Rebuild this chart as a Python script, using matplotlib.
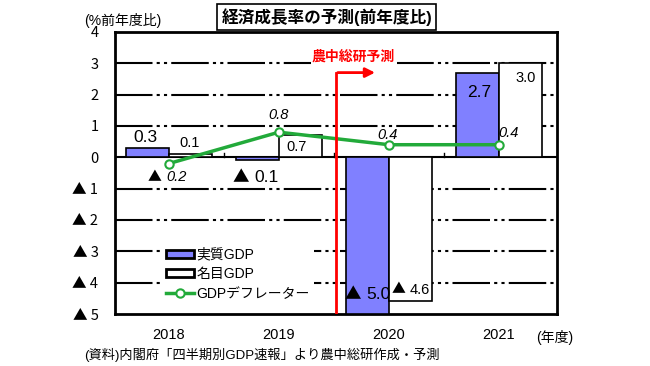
import matplotlib
matplotlib.use("Agg")
import matplotlib.pyplot as plt
import numpy as np

plt.rcParams['font.family'] = ['Liberation Sans', 'Noto Sans CJK JP', 'DejaVu Sans']

years = ['2018', '2019', '2020', '2021']
real_gdp = [0.3, -0.1, -5.0, 2.7]
nominal_gdp = [0.1, 0.7, -4.6, 3.0]
deflator = [-0.2, 0.8, 0.4, 0.4]
yticks = [4, 3, 2, 1, 0, -1, -2, -3, -4, -5]

CJK = ['Noto Sans CJK JP', 'DejaVu Sans']


def label(ax, px, py, v, size, **kw):
    # negative values are written as "▲ n" (triangle in CJK font, digits in sans)
    num = f'{abs(v):.1f}'
    if v < 0:
        ax.annotate('▲', (px, py), xytext=(-1, 0), textcoords='offset points', ha='right', va='center',
                    fontsize=size * 0.95, family=CJK, zorder=5)
        ax.annotate(num, (px, py), xytext=(2.5, 0), textcoords='offset points', ha='left', va='center',
                    fontsize=size, zorder=5, **kw)
    else:
        ax.text(px, py, num, ha='center', va='center', fontsize=size, zorder=5, **kw)


fig = plt.figure(figsize=(6.5, 3.66), dpi=100)
ax = fig.add_axes([0.177, 0.142, 0.68, 0.771])

x = np.arange(len(years))
w = 0.39
b1 = ax.bar(x - w / 2, real_gdp, w, color='#8080ff', edgecolor='black', linewidth=1.2, zorder=3)
b2 = ax.bar(x + w / 2, nominal_gdp, w, color='white', edgecolor='black', linewidth=1.2, zorder=3)
l1, = ax.plot(x, deflator, color='#22aa3a', linewidth=2.5, marker='o', markersize=6,
              markerfacecolor='white', markeredgecolor='#22aa3a', markeredgewidth=1.5, zorder=4)

# grid
for t in yticks:
    if t == 0:
        ax.axhline(0, color='black', linewidth=1.5, zorder=2)
    elif t not in (4, -5):
        ax.axhline(t, color='black', linewidth=1.5, dashes=(18, 2, 1.5, 2, 1.5, 2), zorder=1)
for b in x[:-1] + 0.5:
    ax.plot([b, b], [0, 0.15], color='black', linewidth=1, zorder=2)

ax.set_xlim(-0.49, 3.53)
ax.set_ylim(-5, 4)
ax.set_yticks(yticks)
ax.set_yticklabels([f'▲ {abs(t)}' if t < 0 else str(t) for t in yticks], fontsize=10.5, family=CJK)
ax.set_xticks(x)
ax.set_xticklabels(years, fontsize=10.5)
ax.tick_params(length=0, pad=12)
ax.tick_params(axis='x', pad=10)
for s in ax.spines.values():
    s.set_linewidth(2)

# bar labels
real_pos = [(-0.21, 0.64), (0.745, -0.64), (1.764, -4.38), (2.82, 2.05)]
nom_pos = [(0.19, 0.45), (1.16, 0.32), (2.16, -4.22), (3.24, 2.52)]
def_pos = [(-0.055, -0.64), (1.0, 1.34), (1.99, 0.72), (3.09, 0.77)]
for v, (px, py) in zip(real_gdp, real_pos):
    label(ax, px, py, v, 12.5)
for v, (px, py) in zip(nominal_gdp, nom_pos):
    label(ax, px, py, v, 10.5)
for v, (px, py) in zip(deflator, def_pos):
    label(ax, px, py, v, 10.5, style='italic')

# forecast marker
ax.plot([1.52, 1.52], [-5, 2.7], color='red', linewidth=2, zorder=4)
ax.annotate('', xy=(1.9, 2.7), xytext=(1.51, 2.7),
            arrowprops=dict(arrowstyle='-|>', color='red', lw=2, mutation_scale=14), zorder=4)
ax.text(1.68, 3.2, '農中総研予測', color='red', fontsize=10, fontweight='bold', ha='center', va='center',
        bbox=dict(facecolor='white', edgecolor='none', pad=1), zorder=5)

leg = ax.legend([b1, b2, l1], ['実質GDP', '名目GDP', 'GDPデフレーター'],
                loc='upper left', bbox_to_anchor=(0.09, 0.275), frameon=True, fontsize=10,
                handlelength=2.0, handleheight=0.5, borderpad=0.3, labelspacing=0.4, handletextpad=0.2)
leg.get_frame().set_edgecolor('none')
leg.get_frame().set_facecolor('white')
leg.get_frame().set_alpha(1)
leg.set_zorder(6)
for p in leg.get_patches():
    p.set_linewidth(2)

fig.text(0.503, 0.953, '経済成長率の予測(前年度比)', ha='center', va='center', fontsize=12, fontweight='bold',
         bbox=dict(facecolor='white', edgecolor='black', linewidth=1.2, pad=3))
fig.text(0.13, 0.945, '(%前年度比)', ha='left', va='center', fontsize=10)
fig.text(0.825, 0.078, '(年度)', ha='left', va='center', fontsize=10)
fig.text(0.13, 0.03, '(資料)内閣府「四半期別GDP速報」より農中総研作成・予測', ha='left', va='center', fontsize=9.5)

fig.savefig('out.png', dpi=100)
